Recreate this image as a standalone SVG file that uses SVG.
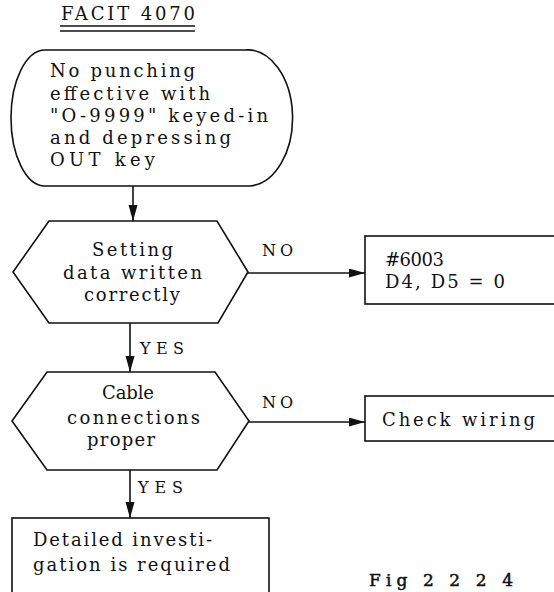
<svg xmlns="http://www.w3.org/2000/svg" width="554" height="592" viewBox="0 0 554 592">
  <style>
    .shape { fill: #ffffff; stroke: #111111; stroke-width: 1.6; }
    .wire { fill: none; stroke: #111111; stroke-width: 1.6; }
    .txt { font-family: "DejaVu Serif", "Liberation Serif", serif; font-size: 18px; fill: #111111; }
    .lbl { font-family: "DejaVu Serif", "Liberation Serif", serif; font-size: 16px; fill: #111111; }
    .title { font-family: "DejaVu Serif", "Liberation Serif", serif; font-size: 18px; fill: #111111; }
    .fig { font-family: "DejaVu Serif", "Liberation Serif", serif; font-size: 17px; fill: #111111; stroke: #111111; stroke-width: 0.5; }
  </style>
  <defs>
    <marker id="arrow" markerUnits="userSpaceOnUse" markerWidth="17" markerHeight="10" refX="16" refY="4.5" orient="auto">
      <path d="M0,0 L16,4.5 L0,9 Z" fill="#111111"/>
    </marker>
  </defs>

  <!-- heading -->
  <g id="title">
    <text class="title" x="61" y="20" textLength="134" lengthAdjust="spacing">FACIT 4070</text>
    <line class="wire" x1="60" y1="26" x2="195" y2="26" stroke-width="1.3"/>
    <line class="wire" x1="60" y1="31" x2="195" y2="31" stroke-width="1.3"/>
  </g>

  <!-- connectors -->
  <g id="connectors">
    <line class="wire" x1="133" y1="186" x2="133" y2="221" marker-end="url(#arrow)"/>
    <line class="wire" x1="248" y1="273" x2="365" y2="273" marker-end="url(#arrow)"/>
    <text class="lbl" x="262" y="256" textLength="31" lengthAdjust="spacing">NO</text>
    <line class="wire" x1="130" y1="323" x2="130" y2="372" marker-end="url(#arrow)"/>
    <text class="lbl" x="140" y="354" textLength="44" lengthAdjust="spacing">YES</text>
    <line class="wire" x1="249" y1="422" x2="365" y2="422" marker-end="url(#arrow)"/>
    <text class="lbl" x="262" y="408" textLength="31" lengthAdjust="spacing">NO</text>
    <line class="wire" x1="130" y1="470" x2="130" y2="518" marker-end="url(#arrow)"/>
    <text class="lbl" x="138" y="493" textLength="45" lengthAdjust="spacing">YES</text>
  </g>

  <!-- start: rounded terminator -->
  <g id="start">
    <path class="shape" d="M45,50 H245 A45,68 0 0 1 250,186 H45 A34,68 0 0 1 45,50 Z"/>
    <text class="txt" x="50" y="77" textLength="145" lengthAdjust="spacing">No punching</text>
    <text class="txt" x="50" y="100" textLength="160" lengthAdjust="spacing">effective with</text>
    <text class="txt" x="50" y="122" textLength="218" lengthAdjust="spacing">"O-9999" keyed-in</text>
    <text class="txt" x="50" y="144" textLength="181" lengthAdjust="spacing">and depressing</text>
    <text class="txt" x="50" y="166" textLength="105" lengthAdjust="spacing">OUT key</text>
  </g>

  <!-- decision: setting data -->
  <g id="check-setting">
    <polygon class="shape" points="49,221 217,221 248,272 218,323 49,323 13,272"/>
    <text class="txt" x="92" y="256" textLength="81" lengthAdjust="spacing">Setting</text>
    <text class="txt" x="63" y="279" textLength="139" lengthAdjust="spacing">data written</text>
    <text class="txt" x="84" y="301" textLength="96" lengthAdjust="spacing">correctly</text>
  </g>

  <!-- action: parameter fix -->
  <g id="param-fix">
    <rect class="shape" x="365" y="236" width="220" height="68"/>
    <text class="txt" x="385" y="266" textLength="59" lengthAdjust="spacing">#6003</text>
    <text class="txt" x="385" y="288" textLength="120" lengthAdjust="spacing">D4, D5 = 0</text>
  </g>

  <!-- decision: cable connections -->
  <g id="check-cable">
    <polygon class="shape" points="47,372 215,372 249,421 217,470 47,470 12,421"/>
    <text class="txt" x="102" y="399" textLength="52" lengthAdjust="spacing">Cable</text>
    <text class="txt" x="67" y="424" textLength="133" lengthAdjust="spacing">connections</text>
    <text class="txt" x="87" y="446" textLength="68" lengthAdjust="spacing">proper</text>
  </g>

  <!-- action: wiring -->
  <g id="wiring">
    <rect class="shape" x="365" y="396" width="220" height="45"/>
    <text class="txt" x="382" y="426" textLength="153" lengthAdjust="spacing">Check wiring</text>
  </g>

  <!-- result: further investigation -->
  <g id="investigate">
    <rect class="shape" x="12" y="518" width="257" height="100"/>
    <text class="txt" x="33" y="546" textLength="179" lengthAdjust="spacing">Detailed investi-</text>
    <text class="txt" x="33" y="571" textLength="197" lengthAdjust="spacing">gation is required</text>
  </g>

  <!-- figure caption -->
  <text class="fig" x="369" y="586" textLength="144" lengthAdjust="spacing">Fig  2 2 2 4</text>
</svg>
